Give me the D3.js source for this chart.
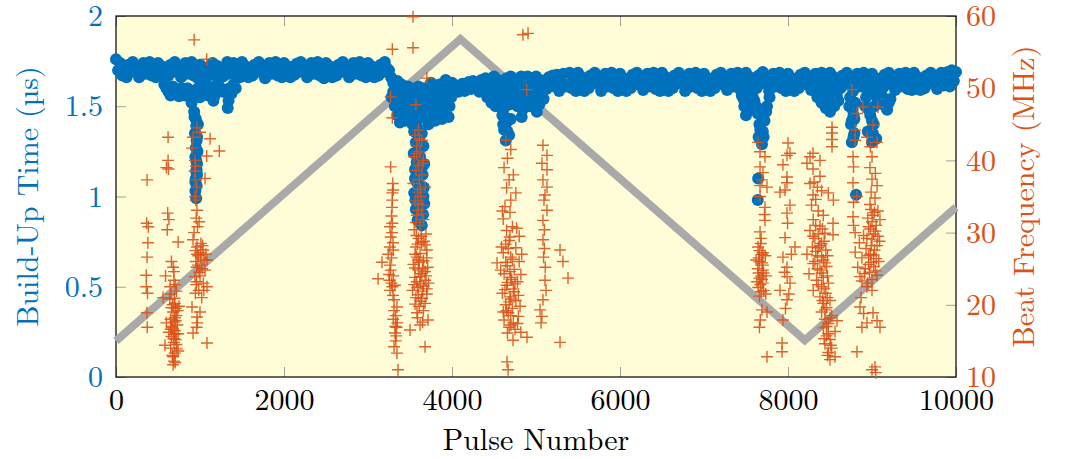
<!DOCTYPE html>
<html>
<head>
<meta charset="utf-8">
<script src="https://cdn.jsdelivr.net/npm/d3@7"></script>
<style>
  html, body { margin: 0; padding: 0; background: #ffffff; }
  svg { display: block; }
  text { font-family: "Latin Modern Roman", "CMU Serif", "Liberation Serif", "DejaVu Serif", serif; }
</style>
</head>
<body>
<svg id="chart" width="1067" height="459"></svg>
<script>
// Build-up time (µs), one reading every 25 pulses from pulse 0 to 10000
const buildUpStep = 25;
const buildUpTime = [
  1.76,1.70,1.74,1.67,1.72, 1.66,1.73,1.69,1.745,1.71, 1.72,1.66,1.70,1.74,1.68, 1.69,1.745,1.67,1.71,1.66,
  1.74,1.68,1.72,1.655,1.70, 1.67,1.73,1.69,1.745,1.71, 1.72,1.66,1.70,1.74,1.68, 1.69,1.745,1.67,1.71,1.655,
  1.73,1.68,1.715,1.66,1.70, 1.675,1.74,1.69,1.725,1.655, 1.71,1.665,1.70,1.745,1.68, 1.69,1.74,1.67,1.72,1.66,
  1.745,1.68,1.72,1.66,1.70, 1.67,1.73,1.69,1.745,1.71, 1.72,1.655,1.70,1.74,1.68, 1.69,1.745,1.67,1.71,1.66,
  1.74,1.685,1.72,1.66,1.70, 1.675,1.735,1.69,1.745,1.71, 1.725,1.66,1.70,1.74,1.68, 1.695,1.745,1.67,1.715,1.655,
  1.74,1.68,1.72,1.66,1.70, 1.67,1.73,1.69,1.745,1.71, 1.72,1.66,1.70,1.74,1.68, 1.69,1.745,1.67,1.71,1.66,
  1.74,1.68,1.72,1.66,1.70, 1.67,1.73,1.69,1.745,1.71, 1.70,1.66,1.63,1.60,1.64, 1.57,1.62,1.59,1.55,1.61,
  1.60,1.55,1.58,1.52,1.61, 1.57,1.54,1.60,1.50,1.58, 1.63,1.56,1.60,1.53,1.62, 1.58,1.55,1.645,1.52,1.60,
  1.63,1.59,1.615,1.58,1.60, 1.625,1.585,1.61,1.635,1.595, 1.64,1.60,1.62,1.58,1.645, 1.61,1.655,1.59,1.63,1.60,
  1.665,1.60,1.645,1.58,1.625, 1.595,1.655,1.61,1.665,1.635, 1.645,1.58,1.625,1.665,1.60, 1.61,1.665,1.59,1.64,1.58,
  1.665,1.60,1.645,1.58,1.625, 1.595,1.66,1.61,1.67,1.635, 1.675,1.585,1.635,1.68,1.61, 1.62,1.685,1.60,1.655,1.585,
  1.685,1.61,1.66,1.585,1.635, 1.60,1.67,1.625,1.685,1.645, 1.66,1.585,1.635,1.68,1.61, 1.625,1.685,1.60,1.65,1.585,
  1.68,1.605,1.655,1.585,1.63, 1.60,1.675,1.62,1.685,1.645, 1.665,1.59,1.635,1.68,1.61, 1.625,1.685,1.595,1.655,1.585,
  1.685,1.61,1.66,1.585,1.635, 1.60,1.67,1.625,1.685,1.645, 1.66,1.585,1.635,1.68,1.61, 1.625,1.685,1.60,1.65,1.585,
  1.68,1.605,1.655,1.585,1.63, 1.60,1.675,1.62,1.685,1.645, 1.665,1.59,1.635,1.68,1.61, 1.625,1.685,1.595,1.655,1.585,
  1.685,1.61,1.66,1.585,1.635, 1.60,1.67,1.625,1.69,1.645, 1.66,1.585,1.635,1.68,1.61, 1.625,1.685,1.60,1.65,1.585,
  1.68,1.605,1.655,1.585,1.63, 1.60,1.675,1.62,1.685,1.645, 1.665,1.59,1.635,1.68,1.61, 1.625,1.685,1.595,1.655,1.585,
  1.685,1.61,1.66,1.585,1.635, 1.60,1.67,1.625,1.685,1.645, 1.66,1.585,1.635,1.68,1.61, 1.625,1.685,1.60,1.65,1.585,
  1.68,1.605,1.655,1.585,1.63, 1.60,1.675,1.62,1.685,1.645, 1.665,1.59,1.635,1.68,1.61, 1.625,1.685,1.595,1.655,1.59,
  1.685,1.61,1.66,1.59,1.635, 1.60,1.67,1.625,1.685,1.645, 1.665,1.595,1.64,1.685,1.615, 1.63,1.69,1.61,1.70,1.64,
  1.69
];

// Slower build-ups during the unstable stretches: [pulse, µs]
const buildUpDips = [
  [575,1.62],[625,1.58],[675,1.61],[725,1.57],[775,1.60],[825,1.56],[875,1.59],[925,1.55],[975,1.60],[1025,1.57],
  [1075,1.62],[1125,1.58],[1160,1.53],[1175,1.56],[1225,1.61],[1275,1.58],[1330,1.49],[1340,1.53],[1375,1.57],[1425,1.60],
  [600,1.60],[650,1.56],[700,1.59],[750,1.555],[800,1.58],[850,1.60],[900,1.57],[1000,1.55],[1050,1.59],[1100,1.56],
  [1150,1.60],[1200,1.62],[1250,1.60],[1300,1.58],[1350,1.60],[1400,1.62],
  [900,1.52],[930,1.47],[950,1.43],[955,1.39],[940,1.35],[960,1.31],[950,1.27],[945,1.22],[965,1.18],[955,1.14],
  [950,1.10],[960,1.06],[945,1.03],[955,0.99],[965,1.12],[975,1.40],[970,1.25],[935,1.44],[965,1.33],[955,1.20],
  [960,1.15],[945,1.08],
  [3280,1.55],[3320,1.50],[3350,1.45],[3380,1.41],[3410,1.47],[3440,1.42],[3470,1.52],[3500,1.45],[3530,1.40],[3560,1.48],
  [3600,1.43],[3640,1.50],[3680,1.44],[3720,1.40],[3760,1.47],[3800,1.42],[3840,1.50],[3880,1.43],[3920,1.48],[3960,1.44],
  [3990,1.55],[3300,1.58],[3400,1.53],[3500,1.55],[3600,1.54],[3700,1.53],[3800,1.55],[3900,1.56],
  [3330,1.53],[3360,1.56],[3430,1.50],[3460,1.56],[3520,1.50],[3550,1.56],[3580,1.52],[3620,1.47],[3660,1.55],[3700,1.48],
  [3740,1.52],[3780,1.58],[3820,1.47],[3860,1.54],[3900,1.50],[3940,1.53],[3970,1.50],[3540,1.44],[3690,1.45],
  [3550,1.36],[3640,1.35],[3570,1.30],[3660,1.28],[3545,1.24],[3620,1.22],[3670,1.18],[3560,1.15],[3650,1.12],[3580,1.08],
  [3665,1.05],[3550,1.02],[3630,0.99],[3670,0.96],[3570,0.93],[3655,0.90],[3590,0.87],[3640,0.84],[3600,1.20],[3610,1.00],
  [3590,1.38],[3610,1.32],[3600,1.26],[3580,1.19],[3640,1.16],[3600,1.10],[3620,1.04],[3600,0.95],[3620,0.90],[3565,0.98],
  [3660,1.00],[3560,1.10],
  [4420,1.55],[4470,1.52],[4520,1.50],[4570,1.53],[4620,1.49],[4680,1.51],[4730,1.54],[4780,1.50],[4830,1.44],[4840,1.48],
  [4880,1.52],[4930,1.50],[4980,1.53],[5010,1.47],[5040,1.51],[5090,1.54],
  [4450,1.56],[4550,1.55],[4650,1.55],[4750,1.56],[4850,1.55],[4950,1.56],[5050,1.56],
  [4600,1.45],[4650,1.41],[4620,1.37],[4680,1.34],[4640,1.31],[4700,1.43],[4610,1.40],[4660,1.36],[4630,1.44],
  [7450,1.56],[7480,1.50],[7500,1.45],[7530,1.52],[7560,1.48],[7600,1.53],[7640,1.46],[7660,1.40],[7700,1.36],[7650,1.33],
  [7690,1.29],[7720,1.42],[7750,1.50],[7780,1.55],[7470,1.54],[7520,1.56],[7580,1.55],[7620,1.50],[7680,1.45],[7670,1.37],
  [7710,1.33],[7740,1.47],[7645,1.10],[7640,0.98],
  [8350,1.55],[8400,1.52],[8450,1.49],[8500,1.47],[8550,1.50],[8600,1.53],[8380,1.56],[8430,1.54],[8480,1.52],[8530,1.54],
  [8580,1.56],
  [8730,1.50],[8780,1.45],[8750,1.40],[8790,1.35],[8760,1.30],[8800,1.52],[8740,1.55],[8770,1.48],[8760,1.42],[8780,1.33],
  [8790,1.43],[8810,1.01],
  [8920,1.50],[8980,1.45],[9020,1.40],[8950,1.36],[9050,1.32],[9000,1.30],[8930,1.55],[8960,1.48],[9000,1.42],[9030,1.50],
  [9010,1.35],[9060,1.55],
  [9100,1.52],[9180,1.48],[9220,1.54],[9130,1.55],[9160,1.50],[9200,1.52]
];

// Measured beat frequency (MHz) where beating was detected: [pulse, MHz]
const beatFrequency = [
  [370,37.3],[365,31.3],[380,28.6],[370,26.6],[360,22.5],[375,21.6],[368,18.9],[372,16.9],[385,30.8],[360,24.1],
  [620,43.2],[620,40.0],[600,39.0],[625,38.8],[615,32.7],[630,31.8],[610,30.4],[740,28.7],[660,26.0],[680,25.2],
  [690,24.6],[590,24.0],[690,23.4],[645,22.5],[560,21.0],[700,20.2],[710,19.5],[680,19.0],[720,18.5],[650,18.0],
  [690,17.6],[730,17.2],[670,16.8],[700,16.4],[740,16.0],[660,15.6],[710,15.2],[690,14.8],[720,14.5],[583,14.4],
  [650,14.0],[740,13.6],[700,13.3],[680,12.8],[690,12.2],[680,11.7],[600,17.5],[640,20.8],[720,21.9],[750,19.8],
  [630,16.2],[705,22.8],[655,21.5],[675,20.0],[700,18.2],[665,17.0],[715,16.0],[685,15.3],[725,13.9],[670,13.0],
  [705,12.0],[695,20.9],[735,19.2],[660,19.6],[690,15.9],[650,16.6],[710,17.8],
  [930,56.7],[1080,54.0],[1120,43.0],[1230,41.3],[1080,40.6],[1060,37.5],
  [964,44.5],[1000,43.9],[917,43.2],[905,41.7],[940,40.0],[950,39.2],[935,38.5],[945,37.3],[960,36.3],[940,35.0],
  [950,34.5],[964,33.1],[955,32.0],[970,30.8],[917,29.0],[964,28.0],[1036,27.6],[980,26.8],[1050,26.2],[1083,26.2],
  [960,25.2],[1060,24.8],[940,23.9],[955,22.8],[1083,22.5],[945,21.6],[1040,23.0],[1000,24.0],[905,19.7],[964,18.3],
  [970,17.5],[960,16.9],[917,16.1],[1083,14.7],[1010,28.5],[990,31.5],[1070,27.0],[1020,21.0],[1000,19.0],
  [950,26.0],[975,25.5],[990,24.5],[1010,26.5],[965,27.0],[1025,25.0],[1045,22.0],[985,22.0],[930,30.0],[945,27.5],
  [1005,27.2],[960,23.2],[1030,28.2],
  [3290,55.4],[3270,48.8],[3290,45.9],[3270,39.1],[3290,35.5],[3300,35.9],[3290,34.5],[3286,33.5],[3280,32.3],[3290,31.3],
  [3262,30.8],[3270,29.4],[3298,28.6],[3300,27.6],[3167,25.9],[3120,23.6],[3262,25.5],[3250,24.2],[3280,23.0],[3262,22.0],
  [3298,21.3],[3310,20.7],[3345,19.7],[3330,18.5],[3350,17.5],[3340,16.9],[3321,16.1],[3330,15.0],[3310,14.2],[3345,13.3],
  [3357,11.0],[3280,26.5],[3300,18.0],[3320,22.7],[3240,27.0],[3270,24.8],[3300,24.0],[3255,23.4],[3290,22.5],[3310,19.2],
  [3325,17.0],[3335,15.7],[3260,28.0],[3285,30.0],[3295,36.8],
  [3536,59.9],[3536,55.6],[3700,51.4],[3570,47.7],
  [3600,44.2],[3560,43.5],[3640,42.8],[3580,42.0],[3620,41.2],[3550,40.5],[3660,40.0],[3600,39.3],[3570,38.6],[3640,38.0],
  [3610,37.3],[3540,36.8],[3680,36.3],[3590,35.6],[3630,35.0],[3560,34.4],[3650,33.8],[3600,33.1],[3580,32.4],[3660,31.8],
  [3620,31.0],[3550,30.4],[3690,29.8],[3600,29.2],[3640,28.6],[3570,28.0],[3700,27.6],[3620,27.1],[3580,26.6],[3660,26.1],
  [3540,25.6],[3710,25.2],[3600,24.8],[3640,24.3],[3560,23.8],[3680,23.4],[3620,22.9],[3590,22.4],[3650,21.9],[3700,21.5],
  [3570,21.0],[3630,20.5],[3610,19.8],[3660,19.2],[3583,18.9],[3714,17.9],[3620,17.2],[3500,16.5],[3679,14.2],[3680,28.3],
  [3560,27.0],[3720,23.0],[3530,22.0],[3650,25.0],[3600,26.2],[3690,24.0],
  [3575,29.6],[3635,29.5],[3665,28.8],[3590,28.4],[3700,26.5],[3610,25.9],[3560,25.1],[3680,24.6],[3620,23.9],[3580,23.2],
  [3660,22.6],[3550,22.8],[3700,22.2],[3600,21.4],[3640,20.9],[3680,20.2],[3560,20.1],[3590,18.2],[3650,17.6],[3610,43.0],
  [3580,40.9],[3650,39.6],[3620,36.0],[3595,34.0],[3640,32.6],[3570,31.4],
  [4845,57.4],[4905,57.6],[4890,49.8],
  [4640,42.8],[4700,41.5],[4660,40.3],[4620,39.0],[4730,38.0],[4680,37.3],[4650,36.2],[4760,35.5],[4700,34.5],[4630,33.6],
  [4690,32.8],[4610,31.9],[4720,30.8],[4690,29.4],[4640,28.4],[4760,27.9],[4610,27.2],[4700,26.6],[4800,26.0],[4536,25.8],
  [4660,25.4],[4740,24.9],[4620,24.3],[4700,23.8],[4780,23.2],[4650,22.7],[4730,22.2],[4600,21.6],[4690,21.1],[4760,20.6],
  [4640,20.0],[4720,19.5],[4670,18.9],[4790,18.4],[4620,17.9],[4700,17.2],[4750,16.6],[4660,16.1],[4726,15.1],[4893,15.5],
  [4655,12.1],[4668,11.0],[4580,24.8],[4680,28.9],[4610,19.0],[4750,22.9],[4650,30.3],
  [4670,27.8],[4720,26.3],[4640,25.9],[4690,24.6],[4710,23.5],[4660,23.1],[4630,22.1],[4700,20.8],[4740,21.8],[4680,20.4],
  [4650,19.2],[4700,18.5],[4730,17.5],[4680,16.9],[4800,29.5],[4820,24.2],[4790,21.3],[4810,19.8],[4770,30.6],[4830,27.0],
  [4590,28.0],[4600,33.0],[4780,17.4],[4820,16.2],
  [5083,42.1],[5131,40.7],[5071,39.6],[5131,38.7],[5083,37.3],[5131,36.3],[5107,35.2],[5095,34.5],[5131,33.1],[5083,31.7],
  [5100,30.4],[5083,29.0],[5090,26.6],[5110,25.2],[5107,23.4],[5120,22.0],[5083,20.7],[5048,19.3],[5060,17.5],[5070,18.4],
  [5100,27.8],[5286,27.6],[5321,26.0],[5381,23.7],[5286,14.8],
  [7643,42.5],[7667,41.2],[7726,40.5],[7667,39.1],[7702,38.3],[7750,36.3],[7667,35.0],[7690,37.3],[7667,36.5],[7726,33.5],
  [7720,32.5],[7726,31.7],[7667,30.1],[7643,28.0],[7702,27.2],[7650,26.5],[7690,25.8],[7640,25.0],[7710,24.4],[7660,23.7],
  [7700,23.0],[7645,22.4],[7680,21.8],[7690,19.3],[7750,19.0],[7670,17.9],[7660,16.9],[7750,12.8],[7660,27.5],[7700,24.8],
  [7630,23.2],[7680,29.2],[7675,28.5],[7690,27.0],[7660,26.0],[7700,25.5],[7650,24.4],[7690,23.5],[7670,22.8],[7710,22.0],
  [7660,21.2],[7680,24.0],[7730,26.8],[7740,24.0],[7620,26.2],[7735,21.5],
  [8000,42.4],[7988,40.7],[8024,41.0],[7940,39.4],[7988,37.7],[7964,35.9],[7988,36.9],[7905,35.6],[8024,33.8],[7988,32.7],
  [7995,31.3],[7964,29.3],[8083,28.0],[7940,26.6],[7988,25.2],[7990,23.9],[8024,23.0],[7905,22.0],[7988,20.7],[7940,17.9],
  [7929,14.7],[7929,13.5],[8040,27.0],[7960,24.5],[8010,21.5],[7970,19.5],
  [8524,44.6],[8524,43.8],[8524,42.9],[8524,41.9],[8298,41.0],[8262,40.5],[8381,40.0],[8226,39.6],[8298,38.8],[8381,37.8],
  [8310,37.0],[8350,36.3],[8298,35.2],[8262,36.8],[8330,34.6],[8400,35.8],[8480,35.5],[8540,34.5],[8280,33.8],[8360,33.0],
  [8420,32.4],[8300,31.8],[8536,31.3],[8380,30.9],[8262,30.3],[8440,29.9],[8536,29.7],[8320,29.2],[8400,28.5],[8290,28.0],
  [8450,27.6],[8226,27.0],[8350,26.8],[8420,26.2],[8300,25.7],[8460,25.3],[8380,24.8],[8250,24.3],[8420,23.8],[8340,23.4],
  [8480,23.0],[8400,22.5],[8300,22.0],[8450,21.6],[8380,21.1],[8500,20.6],[8420,20.2],[8460,19.6],[8400,19.0],[8520,18.5],
  [8440,18.0],[8480,17.4],[8420,16.8],[8560,16.3],[8460,15.7],[8500,15.2],[8440,14.6],[8520,14.0],[8480,13.4],[8560,12.8],
  [8500,12.4],[8583,17.8],[8360,27.9],
  [8330,31.0],[8410,30.5],[8360,29.8],[8300,29.5],[8430,28.8],[8380,28.2],[8330,27.4],[8470,26.8],[8400,26.6],[8320,26.0],
  [8440,25.8],[8350,25.0],[8400,24.4],[8470,24.0],[8360,22.8],[8430,22.2],[8470,21.0],[8410,20.6],[8440,19.3],[8500,18.2],
  [8460,17.0],[8480,16.0],[8430,15.3],[8510,14.4],[8470,13.0],
  [8760,49.8],[8821,46.5],[8893,47.4],[9070,47.4],[8800,44.2],[8798,42.8],[9012,44.9],[8940,43.2],[9060,42.5],[8980,41.9],
  [8774,40.5],[8780,39.1],[9000,40.5],[8976,39.0],[9040,38.2],[9000,37.4],[9060,36.5],[8774,36.9],[8821,35.0],[8990,35.6],
  [9036,34.8],[8780,34.2],[8976,33.9],[9070,33.0],[9010,32.4],[8774,32.2],[9095,31.8],[8780,31.0],[8960,30.8],[9040,30.2],
  [8800,30.0],[8900,29.6],[9000,29.1],[8850,28.6],[9060,28.2],[8930,27.8],[8800,27.3],[9020,26.9],[8880,26.5],[9080,26.0],
  [8960,25.6],[8830,25.2],[9040,24.7],[8910,24.3],[8857,23.9],[9000,23.5],[8950,23.0],[9000,22.0],[8857,19.7],[8900,18.8],
  [8940,17.5],[9012,18.9],[9060,17.8],[9095,16.9],[8880,16.9],[8821,13.5],[9036,11.4],[9045,10.6],[9000,11.0],[8980,27.0],
  [9090,28.8],[8870,21.0],
  [8990,33.2],[9030,32.8],[8950,32.0],[9000,31.5],[9050,31.0],[8980,30.5],[9020,29.8],[8940,29.2],[9070,29.5],[8990,28.2],
  [9030,27.6],[8960,26.8],[9050,26.4],[8990,25.9],[8920,25.0],[9020,25.3],[8970,24.5],[9060,24.1],[8880,23.3],[8940,22.5]
];

// Seed-laser frequency sweep (MHz): triangle turning points [pulse, MHz]
const sweepPulse = [0, 4100, 8200, 10000];
const sweepFreq  = [15.0, 56.8, 15.1, 33.5];

// Axis ticks and titles
const xTicks = [0, 2000, 4000, 6000, 8000, 10000];
const leftTicks = [0, 0.5, 1, 1.5, 2];
const leftTickLabels = ["0", "0.5", "1", "1.5", "2"];
const rightTicks = [10, 20, 30, 40, 50, 60];
const xTitle = "Pulse Number";
const leftTitle = "Build-Up Time (\u00B5s)";
const rightTitle = "Beat Frequency (MHz)";

const blue = "#0072BD";
const orange = "#D95319";
const grey = "#A9A9A9";

const svg = d3.select("#chart");
const plotL = 116, plotR = 956, plotT = 16, plotB = 377;

const x = d3.scaleLinear().domain([0, 10000]).range([plotL, plotR]);
const yL = d3.scaleLinear().domain([0, 2]).range([plotB, plotT]);
const yR = d3.scaleLinear().domain([10, 60]).range([plotB, plotT]);

// Plot background
svg.append("rect")
  .attr("x", plotL).attr("y", plotT)
  .attr("width", plotR - plotL).attr("height", plotB - plotT)
  .attr("fill", "#FFFDD8");

// Inward ticks on all four sides
function styleAxis(g, color, size) {
  g.select(".domain").remove();
  g.selectAll(".tick line").attr("stroke", "#A0A0A0").attr("stroke-width", 1);
  g.selectAll(".tick text")
    .attr("fill", color)
    .style("font-size", size + "px");
}

svg.append("g")
  .attr("transform", `translate(0,${plotB})`)
  .call(d3.axisBottom(x).tickValues(xTicks).tickFormat(d3.format("d")).tickSize(-10).tickPadding(12))
  .call(g => styleAxis(g, "#000", 30));

svg.append("g")
  .attr("transform", `translate(0,${plotT})`)
  .call(d3.axisTop(x).tickValues(xTicks).tickFormat("").tickSize(-10))
  .call(g => styleAxis(g, "#000", 30));

svg.append("g")
  .attr("transform", `translate(${plotL},0)`)
  .call(d3.axisLeft(yL).tickValues(leftTicks).tickFormat((d, i) => leftTickLabels[i]).tickSize(-10).tickPadding(13))
  .call(g => styleAxis(g, blue, 30));

svg.append("g")
  .attr("transform", `translate(${plotR},0)`)
  .call(d3.axisRight(yR).tickValues(rightTicks).tickFormat(d3.format("d")).tickSize(-10).tickPadding(10))
  .call(g => styleAxis(g, orange, 30));

// Frame
svg.append("rect")
  .attr("x", plotL).attr("y", plotT)
  .attr("width", plotR - plotL).attr("height", plotB - plotT)
  .attr("fill", "none").attr("stroke", "#000").attr("stroke-width", 1.2);

// Frequency sweep
const sweep = sweepPulse.map((p, i) => [p, sweepFreq[i]]);
svg.append("path")
  .datum(sweep)
  .attr("fill", "none")
  .attr("stroke", grey)
  .attr("stroke-width", 8)
  .attr("stroke-linejoin", "miter")
  .attr("d", d3.line().x(d => x(d[0])).y(d => yR(d[1])));

// Build-up time markers
const buildUp = buildUpTime.map((v, i) => [i * buildUpStep, v]).concat(buildUpDips);
svg.append("g")
  .selectAll("circle")
  .data(buildUp)
  .join("circle")
  .attr("cx", d => x(d[0]))
  .attr("cy", d => yL(d[1]))
  .attr("r", 6)
  .attr("fill", blue);

// Beat frequency markers (+)
const cross = 6;
svg.append("g")
  .attr("stroke", orange)
  .attr("stroke-width", 1.4)
  .attr("stroke-opacity", 0.9)
  .selectAll("path")
  .data(beatFrequency)
  .join("path")
  .attr("d", d => {
    const cx = x(d[0]), cy = yR(d[1]);
    return `M${cx - cross},${cy}H${cx + cross}M${cx},${cy - cross}V${cy + cross}`;
  });

// Axis titles
svg.append("text")
  .attr("x", (plotL + plotR) / 2).attr("y", 450)
  .attr("text-anchor", "middle")
  .attr("fill", "#000")
  .style("font-size", "30px")
  .text(xTitle);

svg.append("text")
  .attr("transform", `translate(38,${(plotT + plotB) / 2}) rotate(-90)`)
  .attr("text-anchor", "middle")
  .attr("fill", blue)
  .style("font-size", "30px")
  .text(leftTitle);

svg.append("text")
  .attr("transform", `translate(1034,${(plotT + plotB) / 2}) rotate(-90)`)
  .attr("text-anchor", "middle")
  .attr("fill", orange)
  .style("font-size", "30px")
  .text(rightTitle);
</script>
</body>
</html>
